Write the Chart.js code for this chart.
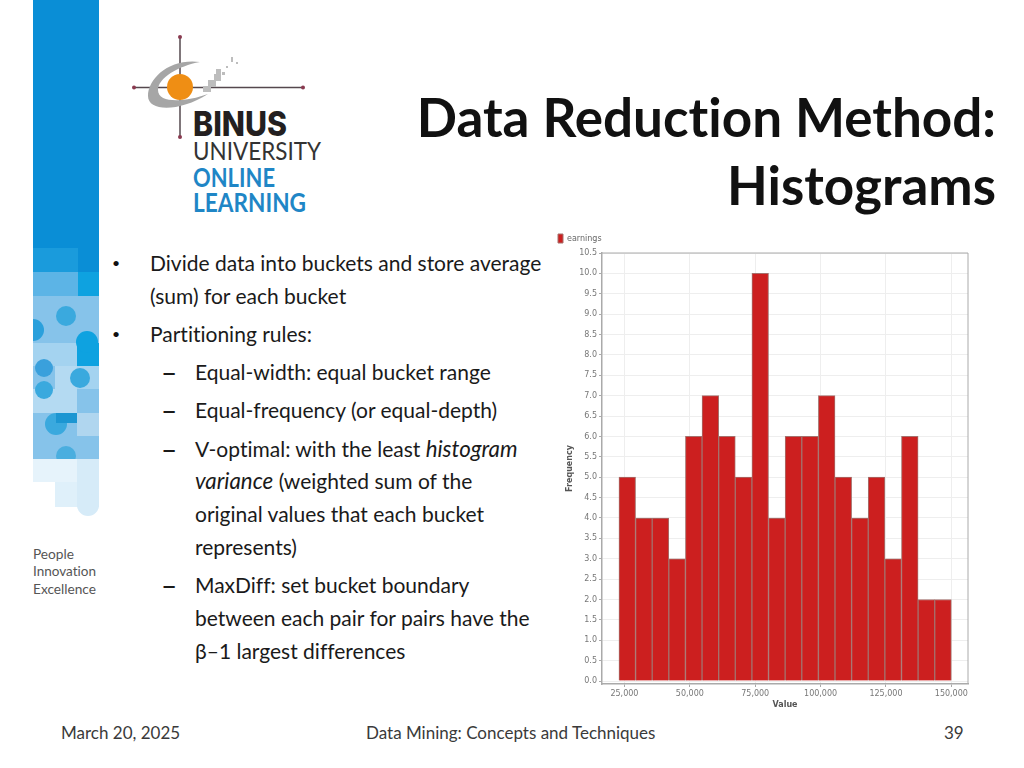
<!DOCTYPE html>
<html>
<head>
<meta charset="utf-8">
<title>Data Reduction Method: Histograms</title>
<script src="https://cdn.jsdelivr.net/npm/chart.js@4"></script>
<style>
html, body { margin: 0; padding: 0; background: #fff; }
body { width: 1024px; height: 768px; position: relative; overflow: hidden; font-family: Lato, sans-serif; color: #111; font-variant-ligatures: none; }
.abs { position: absolute; white-space: nowrap; }
#art { position: absolute; left: 0; top: 0; }
#title { right: 28px; top: 83px; text-align: right; font-size: 53px; font-weight: 700; line-height: 68px; color: #111; }
.line { font-size: 21px; line-height: 24px; color: #1a1a1a; }
.line i { font-size: 22.3px; }
.bul { font-size: 14px; line-height: 24px; color: #111; }
.dash { font-size: 28px; line-height: 24px; color: #1a1a1a; }
.foot { font-size: 17px; line-height: 20px; top: 723px; color: #3a3a3a; }
#hist { position: absolute; left: 550px; top: 228px; }
</style>
</head>
<body>
<svg id="art" width="1024" height="768" xmlns="http://www.w3.org/2000/svg">
  <defs><clipPath id="strip"><rect x="33" y="248" width="66" height="270"/></clipPath></defs>
  <!-- side strip -->
  <rect x="33" y="0" width="66" height="250" fill="#0a8ed6"/>
  <g clip-path="url(#strip)">
  <rect x="33" y="248" width="45" height="24" fill="#1a9bdc"/>
  <rect x="78" y="248" width="21" height="24" fill="#0a8ed6"/>
  <rect x="33" y="272" width="45" height="24" fill="#5cb4e6"/>
  <rect x="78" y="272" width="21" height="24" fill="#0ea2e0"/>
  <rect x="33" y="296" width="66" height="163" fill="#86c3ea"/>
  <rect x="33" y="343" width="44" height="23" fill="#a4d3f0"/>
  <rect x="77" y="343" width="22" height="23" fill="#0ea2e0"/>
  <rect x="77" y="366" width="22" height="23" fill="#a4d3f0"/>
  <rect x="55" y="366" width="22" height="23" fill="#b4daf2"/>
  <rect x="33" y="389" width="44" height="24" fill="#b4daf2"/>
  <rect x="77" y="413" width="22" height="23" fill="#b0d6ef"/>
  <circle cx="66" cy="316" r="10" fill="#3aa9de"/>
  <circle cx="33" cy="330" r="11" fill="#2aa0dc"/>
  <circle cx="87" cy="342" r="11" fill="#0ea2e0"/>
  <circle cx="44" cy="368" r="9" fill="#3aa0dc"/>
  <circle cx="44" cy="390" r="9" fill="#3aa9de"/>
  <circle cx="80" cy="378" r="10" fill="#3aa9de"/>
  <circle cx="56" cy="424" r="11" fill="#3aa9de"/>
  <rect x="56" y="413" width="21" height="10" fill="#1c96d2"/>
  <circle cx="66" cy="456" r="10" fill="#4aaedf"/>
  <rect x="33" y="459" width="44" height="23" fill="#e6f3fb"/>
  <rect x="77" y="459" width="22" height="48" fill="#d6ebf8"/>
  <rect x="55" y="482" width="22" height="25" fill="#dff0fa"/>
  <circle cx="88" cy="505" r="11" fill="#d6ebf8"/>
  </g>
  <!-- logo -->
  <line x1="180" y1="37" x2="180" y2="137" stroke="#55484e" stroke-width="1.5"/>
  <line x1="134" y1="87.5" x2="303" y2="87.5" stroke="#55484e" stroke-width="1.5"/>
  <circle cx="180" cy="37" r="2" fill="#8a3a50"/><circle cx="180" cy="137" r="2" fill="#8a3a50"/>
  <circle cx="134" cy="87.5" r="2" fill="#8a3a50"/><circle cx="303" cy="87.5" r="2" fill="#8a3a50"/>
  <path d="M200 62 C170 58 148 78 148 96 C148 112 180 112 208 94 C186 102 158 104 158 90 C158 78 178 66 200 62 Z" fill="#a6a6a6"/>
  <g fill="#bdbdbd">
    <rect x="203" y="86" width="8" height="6"/><rect x="208" y="80" width="8" height="7"/><rect x="214" y="74" width="7" height="7"/><rect x="216" y="69" width="5" height="5"/>
    <rect x="222" y="72" width="3" height="3"/><rect x="226" y="66" width="2" height="2"/><rect x="231" y="57" width="2" height="5"/><rect x="236" y="62" width="2" height="2"/>
  </g>
  <circle cx="180" cy="87" r="13" fill="#ef8e14"/>
  <text x="193" y="136" font-family="Inter" font-weight="800" font-size="34" fill="#231f20" textLength="94" lengthAdjust="spacingAndGlyphs">BINUS</text>
  <text x="193" y="160" font-family="Lato" font-weight="400" font-size="25" fill="#333" textLength="128" lengthAdjust="spacingAndGlyphs">UNIVERSITY</text>
  <text x="193" y="187" font-family="Lato" font-weight="700" font-size="26" fill="#1f86c6" textLength="82" lengthAdjust="spacingAndGlyphs">ONLINE</text>
  <text x="193" y="212" font-family="Lato" font-weight="700" font-size="26" fill="#1f86c6" textLength="113" lengthAdjust="spacingAndGlyphs">LEARNING</text>
  <text x="33" y="559" font-family="Lato" font-size="13.5" fill="#555" textLength="41" lengthAdjust="spacingAndGlyphs">People</text>
  <text x="33" y="576" font-family="Lato" font-size="13.5" fill="#555" textLength="63" lengthAdjust="spacingAndGlyphs">Innovation</text>
  <text x="33" y="594" font-family="Lato" font-size="13.5" fill="#555" textLength="63" lengthAdjust="spacingAndGlyphs">Excellence</text>
</svg>

<div id="title" class="abs">Data Reduction Method:<br>Histograms</div>

<div class="abs bul" style="left:112px;top:251px">•</div>
<div class="abs line" style="left:150px;top:251px">Divide data into buckets and store average</div>
<div class="abs line" style="left:150px;top:284px">(sum) for each bucket</div>
<div class="abs bul" style="left:112px;top:322px">•</div>
<div class="abs line" style="left:150px;top:322px">Partitioning rules:</div>
<div class="abs dash" style="left:161px;top:360px">–</div>
<div class="abs line" style="left:195px;top:360px">Equal-width: equal bucket range</div>
<div class="abs dash" style="left:161px;top:398px">–</div>
<div class="abs line" style="left:195px;top:398px">Equal-frequency (or equal-depth)</div>
<div class="abs dash" style="left:161px;top:437px">–</div>
<div class="abs line" style="left:195px;top:437px">V-optimal: with the least <i>histogram</i></div>
<div class="abs line" style="left:195px;top:469px"><i>variance</i> (weighted sum of the</div>
<div class="abs line" style="left:195px;top:502px">original values that each bucket</div>
<div class="abs line" style="left:195px;top:535px">represents)</div>
<div class="abs dash" style="left:161px;top:573px">–</div>
<div class="abs line" style="left:195px;top:573px">MaxDiff: set bucket boundary</div>
<div class="abs line" style="left:195px;top:606px">between each pair for pairs have the</div>
<div class="abs line" style="left:195px;top:639px">β–1 largest differences</div>

<div class="abs foot" style="left:61px">March 20, 2025</div>
<div class="abs foot" style="left:366px">Data Mining: Concepts and Techniques</div>
<div class="abs foot" style="left:944px">39</div>

<canvas id="hist" width="430" height="487"></canvas>

<script>
const seriesName = "earnings";
const xTitle = "Value";
const yTitle = "Frequency";

// 막대 중심값 (bucket centers)
const bucketCenters = [26078, 32433, 38788, 45143, 51498, 57853, 64208, 70563, 76918, 83273,
    89628, 95983, 102338, 108693, 115048, 121403, 127758, 134113, 140468, 146823];
const frequencies = [5, 4, 4, 3, 6, 7, 6, 5, 10, 4, 6, 6, 7, 5, 4, 5, 3, 6, 2, 2];

const xTicks = [25000, 50000, 75000, 100000, 125000, 150000];
const yTicks = [0, 0.5, 1, 1.5, 2, 2.5, 3, 3.5, 4, 4.5, 5, 5.5, 6, 6.5, 7, 7.5, 8, 8.5, 9, 9.5, 10, 10.5];

const tickFont = { family: "DejaVu Sans", size: 8 };
const titleFont = { family: "DejaVu Sans", size: 8, weight: "bold" };

// top and right edge of the plot frame
const framePlugin = {
    id: "frame",
    afterDraw(chart) {
        const a = chart.chartArea;
        const ctx = chart.ctx;
        ctx.save();
        ctx.strokeStyle = "#aaaaaa";
        ctx.lineWidth = 1;
        ctx.beginPath();
        ctx.moveTo(a.left, a.top);
        ctx.lineTo(a.right, a.top);
        ctx.lineTo(a.right, a.bottom);
        ctx.stroke();
        ctx.restore();
    }
};

new Chart(document.getElementById("hist").getContext("2d"), {
    type: "bar",
    data: {
        datasets: [{
            label: seriesName,
            data: bucketCenters.map((c, i) => ({ x: c, y: frequencies[i] })),
            backgroundColor: "#cc1f1f",
            borderColor: "#a5706c",
            borderWidth: 1,
            categoryPercentage: 1,
            barPercentage: 1
        }]
    },
    options: {
        responsive: false,
        animation: false,
        devicePixelRatio: 1,
        layout: { padding: { left: 2, right: 12 } },
        plugins: {
            tooltip: { enabled: false },
            legend: {
                position: "top",
                align: "start",
                labels: { boxWidth: 5, boxHeight: 9, padding: 6, color: "#666666", font: { family: "DejaVu Sans", size: 8 } }
            }
        },
        scales: {
            x: {
                type: "linear",
                offset: false,
                min: 16420,
                max: 156370,
                afterBuildTicks: s => { s.ticks = xTicks.map(v => ({ value: v })); },
                afterFit: s => { s.height = 31; },
                grid: { color: "#eeeeee", tickColor: "#aaaaaa", tickLength: 3, offset: false },
                border: { color: "#aaaaaa", width: 1.5 },
                ticks: {
                    autoSkip: false, maxRotation: 0, padding: 2, color: "#777777", font: tickFont,
                    callback: v => v.toLocaleString("en-US")
                },
                title: { display: true, text: xTitle, color: "#555555", font: titleFont, padding: { top: 2, bottom: 5 } }
            },
            y: {
                min: -0.073,
                max: 10.5,
                afterBuildTicks: s => { s.ticks = yTicks.map(v => ({ value: v })); },
                afterFit: s => { s.width = 50; },
                grid: { color: "#eeeeee", tickColor: "#aaaaaa", tickLength: 3 },
                border: { color: "#aaaaaa", width: 1.5 },
                ticks: {
                    autoSkip: false, padding: 2, color: "#777777", font: tickFont,
                    callback: v => v.toFixed(1)
                },
                title: { display: true, text: yTitle, color: "#555555", font: titleFont, padding: { top: 13, bottom: 0 } }
            }
        }
    },
    plugins: [framePlugin]
});
</script>
</body>
</html>
